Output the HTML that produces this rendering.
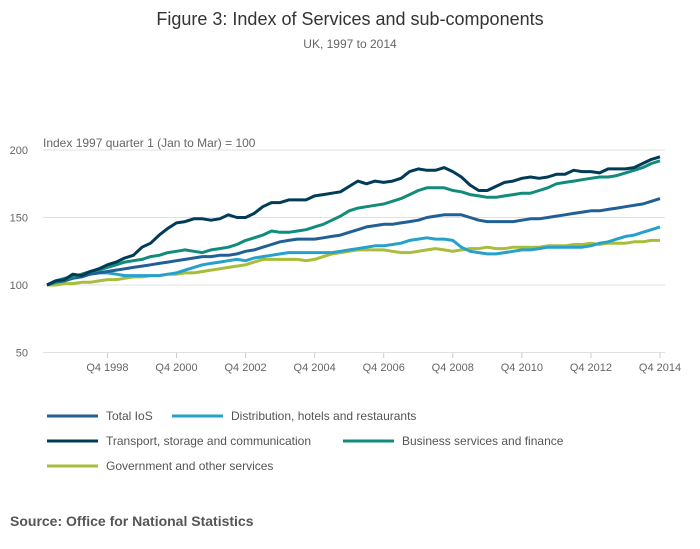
<!DOCTYPE html>
<html><head><meta charset="utf-8"><style>
body{margin:0;background:#fff;font-family:"Liberation Sans",sans-serif;}
svg{display:block}
</style></head><body>
<svg width="700" height="549" id="c">
<text x="350" y="25" text-anchor="middle" font-size="18" fill="#333">Figure 3: Index of Services and sub-components</text>
<text x="350" y="48" text-anchor="middle" font-size="12" fill="#666">UK, 1997 to 2014</text>
<text x="43" y="147" font-size="12" fill="#666">Index 1997 quarter 1 (Jan to Mar) = 100</text>
<g id="grid"></g><g id="xt"></g><g id="lines"></g><g id="legend"></g>
<text x="10" y="526" font-size="14" font-weight="bold" fill="#555">Source: Office for National Statistics</text>
</svg>
<script>
const yTicks=[50,100,150,200];
const xTickLabels=["Q4 1998","Q4 2000","Q4 2002","Q4 2004","Q4 2006","Q4 2008","Q4 2010","Q4 2012","Q4 2014"];
const xTickIdx=[7,15,23,31,39,47,55,63,71];
const totalIoS=[100,102,103,105,106,108,109,110,111,112,113,114,115,116,117,118,119,120,121,121,122,122,123,125,126,128,130,132,133,134,134,134,135,136,137,139,141,143,144,145,145,146,147,148,150,151,152,152,152,150,148,147,147,147,147,148,149,149,150,151,152,153,154,155,155,156,157,158,159,160,162,164];
const distribution=[100,103,105,106,107,108,109,109,108,107,107,107,107,107,108,109,111,113,115,116,117,118,119,118,120,121,122,123,124,124,124,124,124,124,125,126,127,128,129,129,130,131,133,134,135,134,134,133,128,125,124,123,123,124,125,126,126,127,128,128,128,128,128,129,131,132,134,136,137,139,141,143];
const transport=[100,103,104,108,107,110,112,115,117,120,122,128,131,137,142,146,147,149,149,148,149,152,150,150,153,158,161,161,163,163,163,166,167,168,169,173,177,175,177,176,177,179,184,186,185,185,187,184,180,174,170,170,173,176,177,179,180,179,180,182,182,185,184,184,183,186,186,186,187,190,193,195];
const business=[100,102,104,106,108,110,111,113,115,117,118,119,121,122,124,125,126,125,124,126,127,128,130,133,135,137,140,139,139,140,141,143,145,148,151,155,157,158,159,160,162,164,167,170,172,172,172,170,169,167,166,165,165,166,167,168,168,170,172,175,176,177,178,179,180,180,181,183,185,187,190,192];
const government=[100,100,101,101,102,102,103,104,104,105,106,106,107,107,108,108,109,109,110,111,112,113,114,115,117,119,119,119,119,119,118,119,121,123,124,125,126,126,126,126,125,124,124,125,126,127,126,125,126,127,127,128,127,127,128,128,128,128,129,129,129,130,130,131,130,131,131,131,132,132,133,133];
const seriesNames=["Total IoS","Distribution, hotels and restaurants","Transport, storage and communication","Business services and finance","Government and other services"];
const NS="http://www.w3.org/2000/svg";
const X0=47,X1=660,N=71;
function xs(i){return X0+(X1-X0)*i/N;}
function ys(v){return 285-(v-100)*1.35;}
function mk(t,a,p){const e=document.createElementNS(NS,t);for(const k in a)e.setAttribute(k,a[k]);p.appendChild(e);return e;}
const grid=document.getElementById('grid');
yTicks.forEach(v=>{
 const l=mk('line',{x1:43,x2:665,y1:ys(v),y2:ys(v),stroke:'#e0e0e0','stroke-width':1},grid);
 
 
 const t=mk('text',{x:28,y:ys(v)+4,'text-anchor':'end','font-size':11,fill:'#666'},grid);
 t.textContent=v;
 
 
});
const xt=document.getElementById('xt');
xTickLabels.forEach((s,k)=>{
 const x=xs(xTickIdx[k]);
 const l=mk('line',{x1:x,x2:x,y1:353,y2:358,stroke:'#ccc'},xt);
 
 
 const t=mk('text',{x:x,y:371,'text-anchor':'middle','font-size':11,fill:'#666'},xt);
 t.textContent=s;
 
 
});
const data=[totalIoS,distribution,transport,business,government];
const cols=["#206095","#27a0cc","#003c57","#118c7b","#a8bd3a"];
const order=[4,1,0,3,2];
const lines=document.getElementById('lines');
order.forEach(s=>{
 const d=data[s].map((v,i)=>(i?'L':'M')+xs(i).toFixed(1)+' '+ys(v).toFixed(1)).join('');
 const p=mk('path',{d:d,fill:'none',stroke:cols[s],'stroke-width':3,'stroke-linejoin':'round'},lines);
 
 
});
const lg=document.getElementById('legend');
const pos=[[47,416],[172,416],[47,441],[343,441],[47,466]];
seriesNames.forEach((n,s)=>{
 const [x,y]=pos[s];
 const g=mk('g',{},lg);
 
 
 mk('line',{x1:x,x2:x+51,y1:y,y2:y,stroke:cols[s],'stroke-width':3},g);
 const t=mk('text',{x:x+59,y:y+4,'font-size':12,fill:'#555'},g);
 t.textContent=n;
});
</script>
</body></html>
